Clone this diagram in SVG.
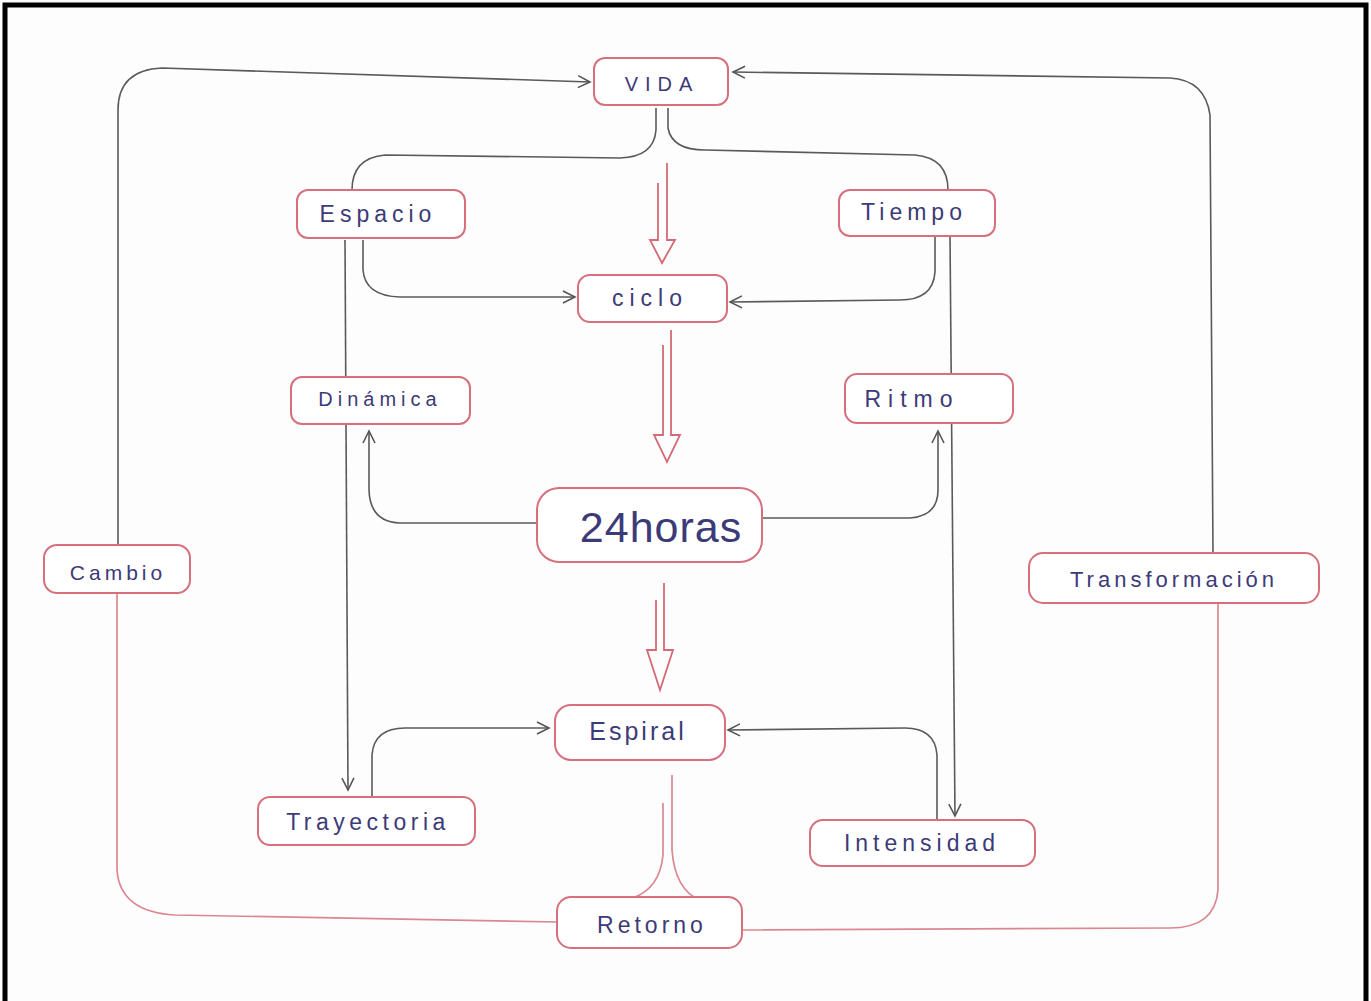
<svg xmlns="http://www.w3.org/2000/svg" width="1371" height="1001" viewBox="0 0 1371 1001">
<defs>
<style>
.box{fill:#fff;stroke:#d6707e;stroke-width:2}
.lbl{font-family:"Liberation Sans","DejaVu Sans",sans-serif;fill:#3d3a78;text-anchor:middle;dominant-baseline:central;font-size:23px;letter-spacing:5px}
.c{fill:none;stroke:#5a5a5a;stroke-width:1.6}
.p{fill:none;stroke:#da8890;stroke-width:1.7}
.dbl{fill:none;stroke:#d46a78;stroke-width:1.8}
</style>
<marker id="oa" viewBox="0 0 16 16" refX="14" refY="8" markerWidth="16" markerHeight="16" markerUnits="userSpaceOnUse" orient="auto">
<path d="M2,2 L14,8 L2,14" fill="none" stroke="#555" stroke-width="1.6"/>
</marker>
</defs>
<rect x="0" y="0" width="1371" height="1001" fill="#fdfdfd"/>
<path d="M5,1001 V5 H1366 V1001" fill="none" stroke="#000" stroke-width="5"/>

<g id="connectors">
<path class="c" d="M118,545 L118,110 Q118,70 162,68 L590,82" marker-end="url(#oa)"/>
<path class="c" d="M1213,553 L1210,115 Q1205,80 1170,78 L733,72" marker-end="url(#oa)"/>
<path class="p" d="M117,593 L117,870 Q120,912 175,915 L557,922"/>
<path class="p" d="M1218,603 L1218,890 Q1215,928 1170,928 L742,930"/>
<path class="c" d="M656,108 L656,130 Q654,157 620,158 L385,155 Q352,158 352,190"/>
<path class="c" d="M668,108 L668,128 Q672,150 705,150 L915,155 Q948,158 948,190"/>
<path class="c" d="M363,240 L363,270 Q365,296 400,297 L575,297" marker-end="url(#oa)"/>
<path class="c" d="M935,236 L935,272 Q933,300 900,300 L730,302" marker-end="url(#oa)"/>
<path class="c" d="M345,240 L348,790" marker-end="url(#oa)"/>
<path class="c" d="M950,236 L955,816" marker-end="url(#oa)"/>
<path class="c" d="M537,523 L400,523 Q370,522 369,490 L369,431" marker-end="url(#oa)"/>
<path class="c" d="M762,518 L910,518 Q938,516 938,490 L938,431" marker-end="url(#oa)"/>
<path class="c" d="M372,797 L372,755 Q374,728 405,728 L549,728" marker-end="url(#oa)"/>
<path class="c" d="M937,820 L937,755 Q935,728 905,728 L728,730" marker-end="url(#oa)"/>
<path class="p" d="M672,775 L672,850 Q675,890 700,900"/>
<path class="p" d="M663,803 L663,855 Q660,888 633,898"/>
<path class="dbl" d="M667,163 L667,240 L675,240 L662,263 L650,240 L658,240 L658,183"/>
<path class="dbl" d="M671,330 L671,435 L680,435 L667,462 L654,435 L663,435 L663,345"/>
<path class="dbl" d="M664,583 L664,650 L673,650 L660,690 L647,650 L656,650 L656,600"/>
</g>

<g id="node-vida"><rect class="box" x="594" y="58" width="134" height="47" rx="11"/><text class="lbl" x="662" y="84" style="font-size:20px;letter-spacing:7px">VIDA</text></g>
<g id="node-espacio"><rect class="box" x="297" y="190" width="168" height="48" rx="11"/><text class="lbl" x="378" y="214">Espacio</text></g>
<g id="node-tiempo"><rect class="box" x="839" y="190" width="156" height="46" rx="11"/><text class="lbl" x="914" y="212">Tiempo</text></g>
<g id="node-ciclo"><rect class="box" x="578" y="275" width="149" height="47" rx="12"/><text class="lbl" x="650" y="298" style="letter-spacing:6px">ciclo</text></g>
<g id="node-dinamica"><rect class="box" x="291" y="377" width="179" height="47" rx="11"/><text class="lbl" x="380" y="399" style="font-size:20px">Dinámica</text></g>
<g id="node-ritmo"><rect class="box" x="845" y="374" width="168" height="49" rx="12"/><text class="lbl" x="912" y="399" style="letter-spacing:7px">Ritmo</text></g>
<g id="node-24horas"><rect class="box" x="537" y="488" width="225" height="74" rx="22"/><text class="lbl" x="661" y="527" style="font-size:43px;letter-spacing:1px">24horas</text></g>
<g id="node-cambio"><rect class="box" x="44" y="545" width="146" height="48" rx="13"/><text class="lbl" x="118" y="572" style="font-size:21px;letter-spacing:4px">Cambio</text></g>
<g id="node-transformacion"><rect class="box" x="1029" y="553" width="290" height="50" rx="14"/><text class="lbl" x="1174" y="579" style="font-size:22px;letter-spacing:4px">Transformación</text></g>
<g id="node-espiral"><rect class="box" x="555" y="705" width="170" height="55" rx="16"/><text class="lbl" x="638" y="731" style="font-size:25px;letter-spacing:3px">Espiral</text></g>
<g id="node-trayectoria"><rect class="box" x="258" y="797" width="217" height="48" rx="12"/><text class="lbl" x="368" y="822" style="letter-spacing:4.5px">Trayectoria</text></g>
<g id="node-intensidad"><rect class="box" x="810" y="820" width="225" height="46" rx="13"/><text class="lbl" x="922" y="843">Intensidad</text></g>
<g id="node-retorno"><rect class="box" x="557" y="897" width="185" height="51" rx="14"/><text class="lbl" x="652" y="925" style="letter-spacing:4px">Retorno</text></g>
</svg>
